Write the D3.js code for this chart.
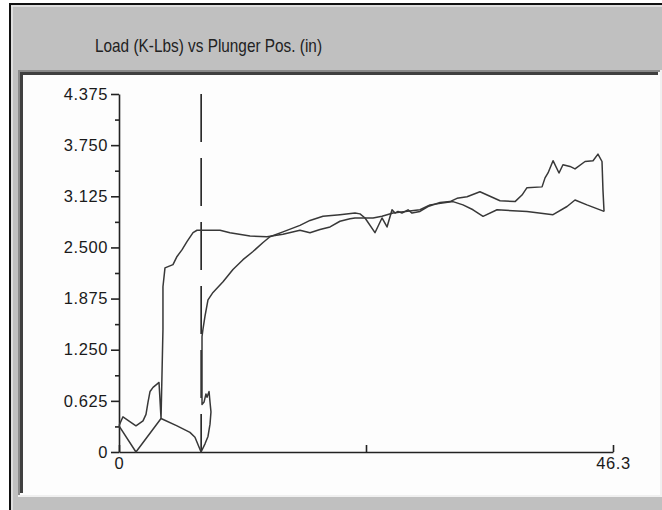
<!DOCTYPE html>
<html>
<head>
<meta charset="utf-8">
<script src="https://cdn.jsdelivr.net/npm/d3@7"></script>
<style>
html,body{margin:0;padding:0;background:#fff;}
svg{display:block;}
</style>
</head>
<body>
<svg id="chart" width="662" height="510"></svg>
<script>
// ---- Data ----
const chartTitle = "Load (K-Lbs) vs Plunger Pos. (in)";
const yTickValues = [0, 0.625, 1.25, 1.875, 2.5, 3.125, 3.75, 4.375];
const yTickLabels = ["0", "0.625", "1.250", "1.875", "2.500", "3.125", "3.750", "4.375"];
const yMinorTicks = [0.3125, 0.9375, 1.5625, 2.1875, 2.8125, 3.4375, 4.0625];
const xTickValues = [0, 23.15, 46.3];
const xTickLabels = ["0", "", "46.3"];
const markerPosition = 7.7;

// Stroke one (outgoing) : plunger position (in), load (K-Lbs)
const strokeOutPos  = [0, 1.59, 3.94, 5.44, 6.65, 7.12, 7.69, 8.06, 8.34, 8.53, 8.62, 8.53, 8.44, 8.25, 8.15, 7.97, 7.78, 7.78, 7.87, 8.06, 8.34, 8.81, 9.75, 10.68, 11.62, 12.56, 13.50, 14.15, 15.37, 16.96, 17.90, 19.12, 20.71, 22.12, 22.59, 23.06, 23.99, 24.65, 25.12, 25.59, 25.87, 26.15, 26.52, 27.09, 27.46, 28.21, 28.96, 30.09, 31.02, 31.68, 32.62, 33.83, 35.71, 37.12, 37.77, 38.24, 39.65, 39.93, 40.21, 40.68, 41.24, 41.61, 42.27, 42.74, 43.68, 44.43, 44.89, 45.27, 45.36, 45.46];
const strokeOutLoad = [0.32, 0, 0.41, 0.32, 0.24, 0.18, 0, 0.10, 0.19, 0.34, 0.49, 0.61, 0.74, 0.67, 0.71, 0.61, 0.58, 1.41, 1.50, 1.66, 1.86, 1.95, 2.08, 2.23, 2.35, 2.45, 2.56, 2.63, 2.69, 2.77, 2.83, 2.88, 2.90, 2.92, 2.91, 2.86, 2.68, 2.86, 2.75, 2.96, 2.92, 2.94, 2.92, 2.96, 2.92, 2.94, 3.00, 3.05, 3.06, 3.10, 3.12, 3.18, 3.07, 3.06, 3.14, 3.23, 3.24, 3.35, 3.41, 3.56, 3.41, 3.51, 3.49, 3.46, 3.55, 3.56, 3.64, 3.55, 3.20, 2.94];

// Stroke two (return)
const strokeBackPos  = [45.46, 43.86, 42.74, 41.99, 40.68, 38.24, 35.43, 34.12, 33.18, 32.24, 31.30, 29.15, 28.21, 25.68, 24.65, 23.81, 22.12, 21.65, 20.71, 19.78, 18.84, 17.90, 16.96, 15.37, 13.87, 12.28, 10.40, 9.47, 7.31, 6.94, 6.37, 5.90, 5.44, 5.06, 4.31, 4.12, 4.12, 3.94, 3.75, 3.56, 3.19, 2.91, 2.72, 2.53, 2.25, 1.59, 0.37, 0];
const strokeBackLoad = [2.94, 3.02, 3.08, 3.00, 2.90, 2.94, 2.96, 2.88, 2.96, 3.02, 3.06, 3.02, 2.96, 2.92, 2.88, 2.86, 2.86, 2.85, 2.82, 2.75, 2.72, 2.68, 2.71, 2.66, 2.63, 2.64, 2.68, 2.71, 2.71, 2.68, 2.57, 2.47, 2.39, 2.29, 2.25, 2.02, 1.50, 0.41, 0.85, 0.83, 0.79, 0.74, 0.61, 0.46, 0.38, 0.32, 0.43, 0.32];

// ---- Drawing ----
const svg = d3.select("#chart");
const W = 662, H = 510;

// window frame
svg.append("rect").attr("x", 9).attr("y", 3).attr("width", W - 9).attr("height", H - 3).attr("fill", "#c0c0c0");
svg.append("line").attr("x1", 10).attr("y1", 3).attr("x2", 10).attr("y2", H).attr("stroke", "#111").attr("stroke-width", 2);
svg.append("line").attr("x1", 9).attr("y1", 4).attr("x2", W).attr("y2", 4).attr("stroke", "#111").attr("stroke-width", 2);
svg.append("line").attr("x1", 12).attr("y1", 6).attr("x2", 12).attr("y2", H).attr("stroke", "#e8e8e8").attr("stroke-width", 1.5);
svg.append("line").attr("x1", 11).attr("y1", 6).attr("x2", W).attr("y2", 6).attr("stroke", "#e8e8e8").attr("stroke-width", 1.5);

// title
svg.append("text")
  .attr("x", 95).attr("y", 52)
  .attr("font-family", "'Liberation Sans Narrow','Arial Narrow','Liberation Sans',Arial,sans-serif")
  .attr("font-size", 19)
  .attr("fill", "#222")
  .attr("textLength", 227)
  .attr("lengthAdjust", "spacingAndGlyphs")
  .text(chartTitle);

// sunken white panel
const px0 = 18, py0 = 70, px1 = 660, py1 = 495;
svg.append("rect").attr("x", px0).attr("y", py0).attr("width", px1 - px0).attr("height", py1 - py0).attr("fill", "#fdfdfd");
svg.append("path").attr("d", `M${px0 + 1},${py1} V${py0 + 1} H${px1}`).attr("fill", "none").attr("stroke", "#8a8a8a").attr("stroke-width", 2);
svg.append("path").attr("d", `M${px0 + 3.5},${py1 - 2} V${py0 + 3.5} H${px1 - 2}`).attr("fill", "none").attr("stroke", "#404040").attr("stroke-width", 3);
svg.append("path").attr("d", `M${px0},${py1 + 1} H${px1 + 1} V${py0}`).attr("fill", "none").attr("stroke", "#f0f0f0").attr("stroke-width", 2);

// scales
const x = d3.scaleLinear().domain([0, 46.3]).range([119, 613]);
const y = d3.scaleLinear().domain([0, 4.375]).range([452, 94]);

const font = "'Liberation Sans',Arial,sans-serif";

// y axis
const yAxis = svg.append("g").attr("transform", `translate(${x(0)},0)`)
  .call(d3.axisLeft(y).tickValues(yTickValues)
    .tickFormat((d, i) => yTickLabels[i]).tickSizeInner(8).tickSizeOuter(0).tickPadding(3));
yAxis.selectAll("text").attr("font-family", font).attr("font-size", 16.5)
  .attr("letter-spacing", "0.6px").attr("fill", "#1a1a1a");
yAxis.selectAll("line,path").attr("stroke", "#222").attr("stroke-width", 1.6);

const yMinor = svg.append("g").attr("transform", `translate(${x(0)},0)`)
  .call(d3.axisLeft(y).tickValues(yMinorTicks).tickFormat("").tickSizeInner(4).tickSizeOuter(0));
yMinor.select(".domain").remove();
yMinor.selectAll("line").attr("stroke", "#222").attr("stroke-width", 1.6);

// x axis
const xAxis = svg.append("g").attr("transform", `translate(0,${y(0)})`)
  .call(d3.axisBottom(x).tickValues(xTickValues)
    .tickFormat((d, i) => xTickLabels[i]).tickSizeInner(-7).tickSizeOuter(0).tickPadding(5));
xAxis.selectAll("text").attr("font-family", font).attr("font-size", 16.5)
  .attr("letter-spacing", "0.6px").attr("fill", "#1a1a1a");
xAxis.selectAll("line,path").attr("stroke", "#222").attr("stroke-width", 1.6);

// dashed marker
svg.append("line")
  .attr("x1", x(markerPosition)).attr("x2", x(markerPosition))
  .attr("y1", y(4.375)).attr("y2", y(0))
  .attr("stroke", "#222").attr("stroke-width", 1.6)
  .attr("stroke-dasharray", "48,16");

// curves
const line = d3.line().x(d => x(d[0])).y(d => y(d[1]));
const outData = strokeOutPos.map((p, i) => [p, strokeOutLoad[i]]);
const backData = strokeBackPos.map((p, i) => [p, strokeBackLoad[i]]);
[outData, backData].forEach(data => {
  svg.append("path").datum(data).attr("d", line)
    .attr("fill", "none").attr("stroke", "#383838").attr("stroke-width", 1.5)
    .attr("stroke-linejoin", "round");
});
</script>
</body>
</html>
